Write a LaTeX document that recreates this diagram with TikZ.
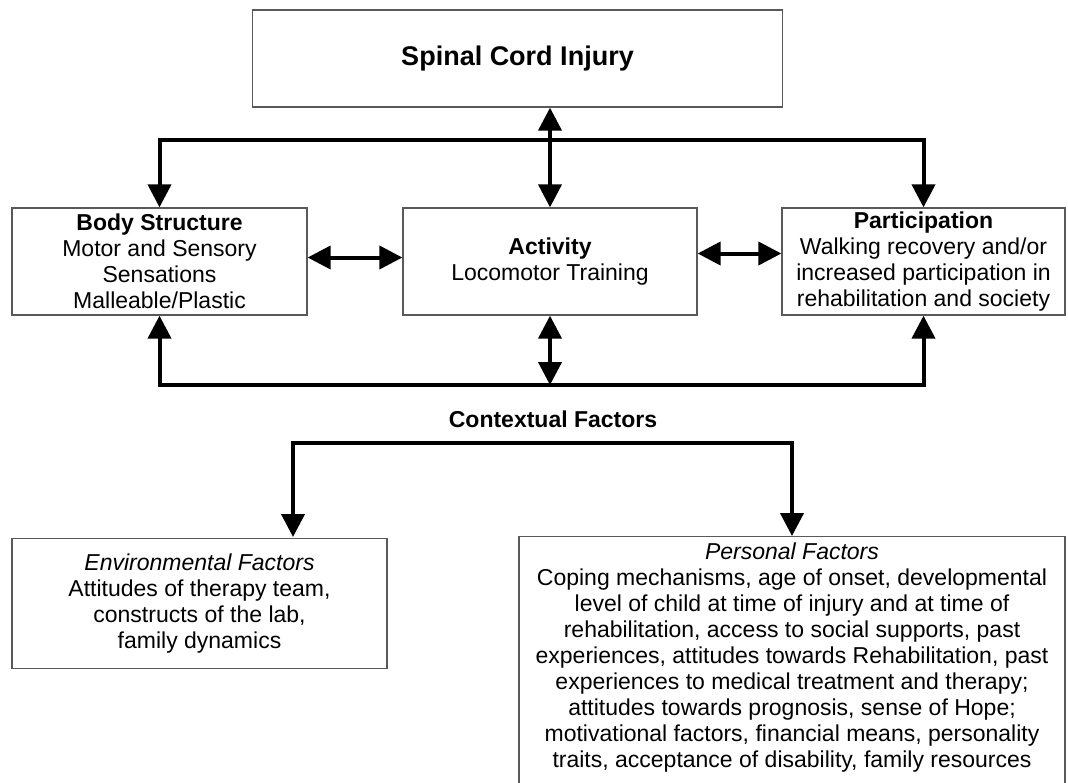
\documentclass[tikz,border=0pt]{standalone}
\usepackage{fontspec}
\setmainfont{Liberation Sans}
\usetikzlibrary{arrows.meta}

\begin{document}
\begin{tikzpicture}
    [
    x=1pt, y=-1pt,
    box/.style={draw=gray!70!black, line width=1.3pt, inner sep=0pt, align=center, font=\fontsize{23}{26}\selectfont},
    heading/.style={font=\fontsize{23}{26}\selectfont\bfseries},
    link/.style={line width=4pt, {Triangle[length=23pt,width=23pt]}-{Triangle[length=23pt,width=23pt]}}
    ]
    \useasboundingbox (0,0) rectangle (1068,782);
    \clip (0,0) rectangle (1068,782);
    \node (sci) at (517.5,58.5) [box, minimum width=530, minimum height=97, font=\fontsize{27}{32}\selectfont\bfseries] {Spinal Cord Injury};
    \node (body) at (159.5,261.5) [box, minimum width=295, minimum height=107] {\textbf{Body Structure}\\Motor and Sensory\\Sensations\\Malleable/Plastic};
    \node (act) at (550,261.5) [box, minimum width=294, minimum height=107] {\textbf{Activity}\\Locomotor Training};
    \node (part) at (923.5,261.5) [box, minimum width=283, minimum height=107] {\textbf{Participation}\\Walking recovery and/or\\increased participation in\\rehabilitation and society};
    \node (ctx) at (553,419) [heading] {Contextual Factors};
    \node (env) at (199.5,603.5) [box, minimum width=375, minimum height=130] {\textit{Environmental Factors}\\Attitudes of therapy team,\\constructs of the lab,\\family dynamics};
    \node (pers) at (792,536) [box, anchor=north, minimum width=546, inner ysep=6pt] {\textit{Personal Factors}\\Coping mechanisms, age of onset, developmental\\level of child at time of injury and at time of\\rehabilitation, access to social supports, past\\experiences, attitudes towards Rehabilitation, past\\experiences to medical treatment and therapy;\\attitudes towards prognosis, sense of Hope;\\motivational factors, financial means, personality\\traits, acceptance of disability, family resources\\[20pt] \strut};
    \coordinate (envin) at (293,537);
    \draw [link] (body.north) |- (545,140) -| (part.north);
    \draw [link] (act.north |- sci.south) -- (act.north);
    \draw [link] ([yshift=4pt]body.east) -- ([yshift=4pt]act.west);
    \draw [link] ([yshift=8pt]act.east) -- ([yshift=8pt]part.west);
    \draw [link] (body.south) |- (547,385) -| (part.south);
    \draw [link] (act.south) -- (act.south |- 0,385);
    \draw [link] (envin) |- (541,443) -| (pers.north);
\end{tikzpicture}
\end{document}
